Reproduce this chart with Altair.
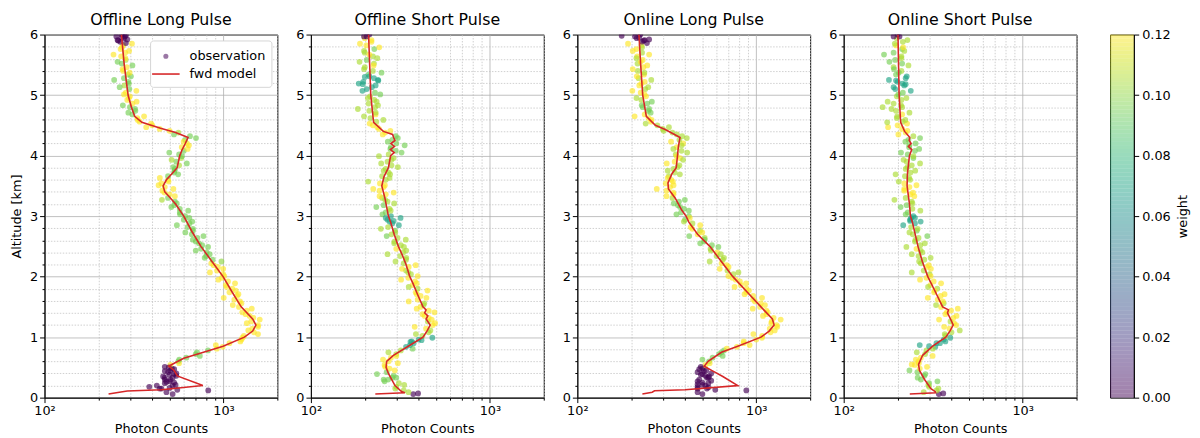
import altair as alt
import pandas as pd
import numpy as np

TITLES = ["Offline Long Pulse", "Offline Short Pulse", "Online Long Pulse", "Online Short Pulse"]

# shared range bins [km], two interleaved shot sets
ALT_A = [0.06, 0.12, 0.18, 0.24, 0.30, 0.36, 0.42, 0.48, 0.54, 0.60,
         0.66, 0.72, 0.78, 0.84, 0.90, 0.96, 1.02, 1.08, 1.14, 1.20,
         1.26, 1.32, 1.38, 1.44, 1.50, 1.56, 1.62, 1.68, 1.74, 1.80,
         1.86, 1.92, 1.98, 2.04, 2.10, 2.16, 2.22, 2.28, 2.34, 2.40,
         2.46, 2.52, 2.58, 2.64, 2.70, 2.76, 2.82, 2.88, 2.94, 3.00,
         3.06, 3.12, 3.18, 3.24, 3.30, 3.36, 3.42, 3.48, 3.54, 3.60,
         3.66, 3.72, 3.78, 3.84, 3.90, 3.96, 4.02, 4.08, 4.14, 4.20,
         4.26, 4.32, 4.38, 4.44, 4.50, 4.56, 4.62, 4.68, 4.74, 4.80,
         4.86, 4.92, 4.98, 5.04, 5.10, 5.16, 5.22, 5.28, 5.34, 5.40,
         5.46, 5.52, 5.58, 5.64, 5.70, 5.76, 5.82, 5.88, 5.94, 6.00]
ALT_B = [0.09, 0.15, 0.21, 0.27, 0.33, 0.39, 0.45, 0.51, 0.57, 0.63,
         0.69, 0.75, 0.81, 0.87, 0.93, 0.99, 1.05, 1.11, 1.17, 1.23,
         1.29, 1.35, 1.41, 1.47, 1.53, 1.59, 1.65, 1.71, 1.77, 1.83,
         1.89, 1.95, 2.01, 2.07, 2.13, 2.19, 2.25, 2.31, 2.37, 2.43,
         2.49, 2.55, 2.61, 2.67, 2.73, 2.79, 2.85, 2.91, 2.97, 3.03,
         3.09, 3.15, 3.21, 3.27, 3.33, 3.39, 3.45, 3.51, 3.57, 3.63,
         3.69, 3.75, 3.81, 3.87, 3.93, 3.99, 4.05, 4.11, 4.17, 4.23,
         4.29, 4.35, 4.41, 4.47, 4.53, 4.59, 4.65, 4.71, 4.77, 4.83,
         4.89, 4.95, 5.01, 5.07, 5.13, 5.19, 5.25, 5.31, 5.37, 5.43,
         5.49, 5.55, 5.61, 5.67, 5.73, 5.79, 5.85, 5.91, 5.97]

# ---------------- Offline Long Pulse ----------------
OLP_CNT_A = [520, 822, 385, 470, 505, 545, 490, 515, 505, 560,
             620, 700, 820, 990, 1080, 1260, 1300, 1480, 1450, 1560,
             1430, 1470, 1330, 1350, 1220, 1260, 1150, 1190, 1080, 1120,
             1030, 1060, 980, 995, 920, 930, 855, 870, 800, 805,
             750, 760, 700, 715, 665, 675, 630, 645, 600, 610,
             570, 570, 530, 535, 490, 500, 455, 470, 450, 490,
             490, 530, 535, 565, 545, 580, 565, 600, 585, 625,
             610, 650, 560, 440, 400, 340, 330, 310, 322, 300,
             310, 290, 300, 285, 298, 280, 294, 278, 292, 275,
             288, 270, 284, 268, 282, 266, 275, 265, 278, 270]
OLP_W_A = [0, 0, 0, 0, 0, 0, 0, 0, .12, .095,
           .095, .095, .095, .12, .12, .12, .12, .12, .12, .12,
           .12, .12, .12, .12, .12, .12, .12, .12, .12, .12,
           .12, .12, .12, .12, .12, .12, .12, .095, .095, .095,
           .095, .095, .095, .095, .095, .095, .095, .095, .095, .095,
           .095, .095, .095, .095, .095, .12, .12, .12, .12, .12,
           .095, .095, .095, .105, .095, .105, .095, .095, .12, .12,
           .095, .095, .105, .12, .12, .12, .12, .095, .095, .095,
           .12, .12, .12, .12, .095, .105, .095, .095, .105, .12,
           .12, .095, .105, .12, .12, .12, .12, 0, 0, 0]
OLP_CNT_B = [480, 440, 540, 500, 470, 530, 505, 470, 565, 566,
             738, 711, 918, 906, 1242, 1277, 1559, 1377, 1560, 1350,
             1594, 1400, 1273, 1439, 1127, 1236, 1003, 1212, 1171, 1043,
             1160, 936, 1010, 840, 996, 881, 974, 785, 837, 700,
             820, 730, 675, 773, 612, 675, 549, 669, 644, 572,
             635, 511, 548, 453, 535, 468, 525, 434, 493, 441,
             558, 533, 524, 624, 513, 586, 498, 631, 641, 599,
             702, 529, 500, 370, 394, 332, 360, 294, 320, 274,
             327, 296, 278, 326, 263, 296, 245, 304, 299, 273,
             310, 256, 283, 243, 297, 271, 308, 256, 281]
OLP_W_B = [0, 0, 0, 0, 0, 0, 0, 0, .12, .095,
           .095, .095, .12, .12, .12, .12, .12, .12, .12, .12,
           .12, .12, .12, .12, .12, .12, .12, .12, .12, .12,
           .12, .12, .12, .12, .12, .12, .10, .095, .095, .095,
           .095, .095, .095, .095, .095, .095, .095, .095, .095, .095,
           .095, .095, .095, .105, .12, .12, .12, .12, .12, .12,
           .095, .095, .095, .095, .105, .095, .095, .12, .12, .12,
           .095, .095, .12, .12, .12, .12, .12, .095, .095, .095,
           .12, .12, .12, .12, .095, .095, .095, .095, .12, .12,
           .095, .095, .12, .12, .12, .12, .12, 0, 0]
OLP_EX_ALT = [0.13, 0.15, 0.16, 0.20, 0.20, 0.25, 0.26, 0.30, 0.33, 0.35, 0.38,
              0.40, 0.44, 0.47, 0.50, 5.86, 5.90, 5.92, 5.95, 5.97, 5.99]
OLP_EX_CNT = [552, 450, 500, 424, 520, 530, 480, 470, 520, 460, 500,
              545, 470, 530, 495, 285, 258, 290, 270, 252, 285]
OLP_EX_W = [0] * 21
OLP_M_ALT = [0.06, 0.09, 0.11, 0.13, 0.20, 0.36, 0.45, 0.52, 0.58, 0.65, 0.75, 0.85,
             1.0, 1.1, 1.2, 1.3, 1.5, 1.75, 2.0, 2.25, 2.5, 2.75, 3.0, 3.2, 3.3, 3.4,
             3.5, 3.6, 3.7, 3.8, 4.0, 4.1, 4.2, 4.3, 4.38, 4.45, 4.55, 4.65, 4.8,
             5.0, 5.5, 6.0]
OLP_M_CNT = [228, 262, 290, 450, 767, 552, 530, 495, 540, 600, 773, 995,
             1309, 1456, 1518, 1456, 1256, 1115, 995, 862, 748, 665, 600, 540, 505, 470,
             460, 480, 515, 551, 570, 588, 612, 634, 540, 445, 350, 319, 306,
             293, 279, 269]

# ---------------- Offline Short Pulse ----------------
OSP_CNT_A = [373, 330, 300, 310, 270, 290, 265, 275, 258, 272,
             280, 300, 318, 340, 375, 400, 420, 455, 440, 480,
             450, 455, 420, 455, 410, 430, 395, 410, 385, 395,
             370, 382, 350, 362, 340, 352, 330, 340, 315, 328,
             300, 318, 293, 305, 282, 295, 270, 285, 268, 280,
             262, 275, 255, 268, 250, 262, 242, 255, 243, 262,
             250, 272, 262, 282, 268, 290, 272, 298, 280, 300,
             285, 298, 260, 240, 222, 232, 215, 230, 212, 228,
             210, 226, 214, 228, 205, 230, 196, 225, 210, 222,
             200, 225, 205, 222, 200, 226, 204, 218, 200, 212]
OSP_W_A = [0, .105, .105, .105, .095, .095, .095, .12, .12, .12,
           .12, .105, .105, .07, .07, .07, .105, .105, .12, .12,
           .105, .12, .12, .12, .12, .105, .12, .12, .12, .105,
           .12, .12, .12, .105, .105, .12, .105, .105, .105, .105,
           .12, .105, .105, .105, .105, .095, .105, .07, .07, .07,
           .095, .105, .095, .105, .105, .12, .12, .12, .12, .105,
           .105, .105, .105, .105, .105, .105, .105, .095, .095, .095,
           .095, .095, .12, .12, .12, .105, .105, .12, .105, .105,
           .105, .105, .105, .095, .07, .07, .07, .07, .09, .105,
           .105, .105, .095, .105, .105, .095, .12, .12, .12, 0]
OSP_CNT_B = [351, 296, 332, 258, 285, 234, 294, 260, 306, 253,
             300, 271, 370, 358, 366, 477, 386, 465, 380, 494,
             473, 432, 490, 390, 426, 352, 442, 390, 448, 352,
             390, 319, 395, 350, 323, 385, 297, 341, 268, 341,
             331, 292, 339, 265, 296, 246, 310, 275, 317, 251,
             279, 232, 292, 260, 242, 290, 223, 259, 209, 275,
             277, 255, 306, 247, 282, 240, 321, 278, 334, 269,
             306, 252, 278, 235, 213, 254, 198, 230, 183, 237,
             233, 208, 244, 194, 219, 185, 237, 212, 248, 198,
             224, 187, 235, 212, 198, 241, 188, 218, 205]
OSP_W_B = [.105, .105, .105, .095, .095, .095, .12, .12, .12, .12,
           .12, .105, .095, .07, .07, .07, .105, .105, .12, .12,
           .12, .12, .12, .12, .105, .12, .12, .12, .12, .105,
           .12, .12, .12, .105, .12, .12, .105, .105, .105, .105,
           .105, .105, .105, .095, .105, .105, .07, .07, .07, .095,
           .105, .095, .105, .105, .12, .12, .12, .12, .105, .105,
           .105, .105, .105, .105, .105, .105, .095, .095, .095, .095,
           .095, .12, .12, .12, .12, .105, .105, .105, .105, .105,
           .105, .105, .095, .07, .07, .07, .07, .07, .095, .105,
           .12, .105, .105, .12, .105, .12, .12, .12, 0]
OSP_EX_ALT = [0.07, 0.30, 0.33, 0.92, 0.95, 2.92, 2.97, 5.18, 5.24, 5.30, 5.97]
OSP_EX_CNT = [397, 255, 300, 360, 415, 290, 262, 195, 238, 200, 198]
OSP_EX_W = [0, .095, .095, .07, .07, .07, .07, .07, .07, .07, 0]
OSP_M_ALT = [0.06, 0.08, 0.1, 0.2, 0.3, 0.4, 0.5, 0.6, 0.7, 0.85, 1.0, 1.1, 1.2, 1.3,
             1.35, 1.4, 1.45, 1.5, 1.7, 1.9, 2.0, 2.2, 2.35, 2.5, 2.7, 2.9, 3.0, 3.3,
             3.5, 3.65, 3.8, 4.0, 4.05, 4.1, 4.15, 4.2, 4.25, 4.3, 4.35, 4.4, 4.55,
             5.0, 5.5, 6.0]
OSP_M_CNT = [229, 335, 321, 295, 283, 271, 263, 265, 289, 350, 423, 445, 464, 440,
             450, 432, 440, 423, 395, 370, 357, 340, 325, 308, 292, 279, 271, 259,
             249, 256, 271, 279, 292, 278, 293, 280, 295, 290, 286, 254, 224,
             216, 213, 210]

# ---------------- Online Long Pulse ----------------
ONLP_CNT_A = [500, 880, 470, 540, 480, 520, 470, 500, 520, 545,
              570, 620, 660, 780, 850, 1000, 1080, 1200, 1190, 1300,
              1220, 1250, 1140, 1140, 1050, 1060, 960, 960, 880, 880,
              820, 810, 735, 745, 690, 700, 640, 650, 600, 605,
              555, 565, 510, 515, 470, 485, 430, 440, 400, 420,
              380, 395, 365, 370, 340, 345, 315, 330, 312, 335,
              325, 350, 345, 372, 350, 375, 355, 382, 360, 390,
              372, 385, 340, 300, 280, 258, 250, 238, 250, 232,
              246, 228, 242, 226, 240, 222, 238, 220, 236, 218,
              234, 217, 232, 216, 230, 214, 228, 230, 215, 225]
ONLP_W_A = [0, 0, 0, 0, 0, 0, 0, 0, .12, .095,
            .095, .095, .095, .12, .12, .12, .12, .12, .12, .12,
            .12, .12, .12, .12, .12, .12, .12, .12, .12, .12,
            .12, .12, .12, .105, .105, .12, .12, .105, .105, .12,
            .105, .095, .095, .105, .12, .105, .12, .105, .095, .095,
            .095, .095, .095, .095, .105, .12, .12, .12, .12, .12,
            .105, .105, .105, .105, .12, .12, .105, .105, .12, .12,
            .105, .105, .105, .105, .105, .12, .12, .12, .095, .095,
            .095, .105, .12, .12, .105, .12, .12, .105, .12, .105,
            .12, .105, .12, .12, .105, .12, .12, 0, 0, 0]
ONLP_CNT_B = [470, 530, 500, 470, 540, 500, 525, 490, 549, 500,
              649, 639, 684, 918, 851, 1076, 963, 1268, 1309, 1213,
              1369, 1090, 1158, 955, 1118, 983, 1077, 860, 910, 756,
              877, 768, 698, 795, 625, 683, 549, 660, 633, 558,
              614, 486, 515, 422, 499, 439, 486, 394, 425, 358,
              420, 375, 346, 399, 315, 344, 278, 345, 342, 320,
              374, 320, 364, 316, 390, 359, 411, 344, 383, 334,
              409, 360, 304, 325, 241, 260, 209, 257, 252, 229,
              261, 214, 237, 203, 249, 228, 259, 215, 237, 204,
              246, 226, 214, 252, 204, 230, 192, 238, 210]
ONLP_W_B = [0, 0, 0, 0, 0, 0, 0, 0, .12, .095,
            .095, .095, .12, .12, .12, .12, .12, .12, .12, .12,
            .12, .12, .12, .12, .12, .12, .12, .12, .12, .12,
            .12, .12, .12, .105, .12, .12, .105, .105, .105, .105,
            .095, .095, .095, .095, .12, .12, .12, .105, .12, .095,
            .095, .095, .095, .095, .12, .12, .12, .12, .12, .12,
            .105, .105, .105, .12, .105, .12, .105, .105, .105, .12,
            .105, .105, .105, .105, .105, .12, .12, .095, .095, .095,
            .095, .105, .12, .12, .105, .12, .105, .12, .105, .12,
            .12, .12, .105, .12, .12, .105, .12, 0, 0]
ONLP_EX_ALT = [0.13, 0.15, 0.17, 0.20, 0.22, 0.25, 0.28, 0.33, 0.35, 0.38, 0.40,
               0.44, 0.47, 5.86, 5.90, 5.92, 5.95, 5.98]
ONLP_EX_CNT = [590, 470, 540, 520, 470, 500, 560, 530, 545, 490, 560,
               510, 480, 245, 235, 252, 222, 177]
ONLP_EX_W = [0] * 18
ONLP_M_ALT = [0.06, 0.09, 0.114, 0.13, 0.2, 0.35, 0.45, 0.52, 0.6, 0.75, 0.85, 1.0,
              1.1, 1.2, 1.3, 1.5, 1.75, 2.0, 2.25, 2.5, 2.7, 2.9, 3.0, 3.1, 3.3,
              3.45, 3.55, 3.7, 3.8, 4.0, 4.15, 4.3, 4.43, 4.5, 4.65, 5.0, 5.5, 6.0]
ONLP_M_CNT = [231, 262, 270, 400, 788, 650, 563, 512, 538, 639, 788, 1062,
              1180, 1258, 1230, 1062, 886, 740, 638, 550, 470, 420, 405, 383, 352,
              323, 321, 338, 357, 363, 367, 375, 310, 273, 243, 232, 226, 221]

# ---------------- Online Short Pulse ----------------
ONSP_CNT_A = [340, 330, 300, 300, 270, 282, 258, 266, 250, 262,
              270, 285, 290, 325, 330, 362, 370, 400, 390, 425,
              395, 410, 370, 398, 350, 362, 335, 348, 320, 333,
              305, 318, 290, 302, 280, 292, 270, 282, 262, 275,
              255, 268, 250, 262, 243, 256, 238, 250, 235, 245,
              228, 242, 225, 240, 222, 236, 218, 233, 218, 235,
              220, 236, 222, 240, 225, 245, 228, 250, 232, 252,
              230, 245, 222, 212, 200, 214, 198, 212, 196, 212,
              190, 210, 198, 214, 194, 218, 200, 222, 196, 210,
              190, 212, 194, 210, 190, 212, 196, 214, 198, 200]
ONSP_W_A = [0, .105, .105, .095, .095, .095, .095, .12, .12, .12,
            .12, .105, .105, .07, .07, .07, .105, .105, .12, .12,
            .105, .12, .12, .12, .12, .105, .12, .12, .12, .105,
            .12, .12, .12, .105, .105, .12, .105, .105, .105, .105,
            .12, .105, .105, .105, .105, .095, .105, .07, .07, .07,
            .095, .105, .095, .105, .105, .12, .12, .12, .12, .105,
            .105, .105, .105, .105, .105, .095, .095, .095, .095, .095,
            .095, .105, .12, .12, .12, .105, .105, .12, .105, .105,
            .105, .105, .105, .095, .07, .07, .07, .07, .095, .105,
            .105, .095, .095, .105, .095, .095, .12, .105, .105, 0]
ONSP_CNT_B = [280, 338, 297, 334, 259, 286, 233, 292, 263, 253,
              314, 256, 315, 266, 370, 394, 367, 445, 364, 413,
              341, 427, 377, 434, 328, 358, 295, 366, 322, 296,
              350, 267, 306, 240, 307, 299, 264, 306, 240, 269,
              224, 284, 252, 293, 233, 259, 215, 269, 238, 222,
              268, 208, 242, 192, 248, 244, 218, 255, 203, 232,
              195, 251, 227, 267, 216, 245, 209, 264, 233, 221,
              267, 202, 227, 177, 226, 221, 199, 233, 185, 209,
              176, 224, 202, 237, 190, 213, 179, 225, 203, 191,
              230, 180, 210, 168, 218, 215, 193, 227, 205]
ONSP_W_B = [.105, .105, .105, .095, .095, .095, .095, .12, .12, .12,
            .12, .105, .105, .07, .07, .07, .105, .105, .12, .12,
            .12, .12, .12, .12, .105, .12, .12, .12, .12, .105,
            .12, .12, .12, .105, .12, .12, .105, .105, .105, .105,
            .105, .105, .105, .095, .105, .105, .07, .07, .07, .095,
            .105, .095, .105, .105, .12, .12, .12, .12, .105, .105,
            .105, .105, .105, .105, .105, .105, .095, .095, .095, .095,
            .095, .12, .12, .12, .12, .105, .105, .105, .105, .105,
            .105, .105, .095, .07, .07, .07, .07, .07, .095, .095,
            .105, .095, .105, .095, .105, .12, .105, .105, 0]
ONSP_EX_ALT = [0.07, 0.55, 0.85, 0.90, 2.92, 2.97, 4.55, 4.80, 5.18, 5.24, 5.97]
ONSP_EX_CNT = [360, 240, 300, 345, 235, 250, 175, 165, 222, 196, 190]
ONSP_EX_W = [0, .12, .07, .07, .07, .07, .105, .105, .07, .07, 0]
ONSP_M_ALT = [0.06, 0.08, 0.1, 0.15, 0.3, 0.45, 0.55, 0.7, 0.85, 1.0, 1.1, 1.2, 1.3,
              1.4, 1.45, 1.5, 1.75, 2.0, 2.25, 2.5, 2.9, 3.0, 3.2, 3.5, 3.7, 4.0,
              4.1, 4.15, 4.2, 4.25, 4.3, 4.4, 4.55, 5.0, 6.0]
ONSP_M_CNT = [234, 326, 325, 307, 283, 265, 262, 276, 314, 372, 392, 409, 395,
              380, 385, 357, 325, 295, 275, 260, 242, 236, 233, 226, 227, 233,
              240, 230, 238, 232, 234, 219, 208, 204, 201]

X_TICKS = [100, 200, 300, 400, 500, 600, 700, 800, 900, 1000, 2000]
Y_TICKS = [round(0.2 * i, 1) for i in range(31)]
CBAR_TICKS = [0.0, 0.02, 0.04, 0.06, 0.08, 0.10, 0.12]

FONT = "DejaVu Sans"
MAJ_X = "datum.value == 100 || datum.value == 1000"
MAJ_Y = "abs(datum.value - round(datum.value)) < 0.001"


def x_axis():
    return alt.Axis(
        values=X_TICKS,
        labelExpr="datum.value == 100 ? '10²' : (datum.value == 1000 ? '10³' : '')",
        title="Photon Counts", titlePadding=5, labelPadding=2,
        labelFlush=False, labelOverlap=False, grid=True,
        tickSize={"condition": {"test": MAJ_X, "value": 5}, "value": 2.5},
        gridDash={"condition": {"test": MAJ_X, "value": []}, "value": [1.5, 1.5]},
        gridColor={"condition": {"test": MAJ_X, "value": "#b0b0b0"}, "value": "#c4c4c4"},
    )


def y_axis(first):
    kw = dict(
        values=Y_TICKS,
        labelExpr=MAJ_Y + " ? format(datum.value, 'd') : ''",
        labelPadding=2, labelFlush=False, labelOverlap=False, grid=True,
        tickSize={"condition": {"test": MAJ_Y, "value": 5}, "value": 2.5},
        gridDash={"condition": {"test": MAJ_Y, "value": []}, "value": [1.5, 1.5]},
        gridColor={"condition": {"test": MAJ_Y, "value": "#b0b0b0"}, "value": "#c4c4c4"},
    )
    if first:
        kw["title"] = "Altitude [km]"
        kw["titlePadding"] = 6
    else:
        kw["title"] = None
    return alt.Axis(**kw)


COLOR_SCALE = alt.Scale(scheme="viridis", domain=[0, 0.12])


def panel(title, cnt_a, w_a, cnt_b, w_b, ex_alt, ex_cnt, ex_w, m_alt, m_cnt, first):
    obs = pd.DataFrame({"alt": ALT_A + ALT_B + ex_alt,
                        "cnt": cnt_a + cnt_b + ex_cnt,
                        "w": w_a + w_b + ex_w})
    mod = pd.DataFrame({"alt": m_alt, "cnt": m_cnt, "i": list(range(len(m_alt)))})
    xs = alt.Scale(type="log", domain=[100, 2000], nice=False)
    ys = alt.Scale(domain=[0, 6], nice=False, zero=False)
    X = alt.X("cnt:Q", scale=xs, axis=x_axis())
    Y = alt.Y("alt:Q", scale=ys, axis=y_axis(first))
    pts = alt.Chart(obs).mark_circle(size=34, opacity=0.65, clip=True).encode(
        x=X, y=Y, color=alt.Color("w:Q", scale=COLOR_SCALE, legend=None))
    line = alt.Chart(mod).mark_line(color="#d62728", strokeWidth=1.6, clip=True).encode(
        x=X, y=Y, order="i:Q")
    layers = [pts, line]
    if first:
        leg_df = pd.DataFrame({"s": ["observation", "fwd model"]})
        leg = alt.Legend(
            title=None, orient="top-right", offset=6, padding=6,
            strokeColor="#d5d5d5", fillColor="white", cornerRadius=3,
            symbolSize=324, symbolStrokeWidth=1.6, symbolOpacity=1,
            symbolFillColor="#9b77a5", labelOffset=14, labelFontSize=13,
            labelFont=FONT, rowPadding=1,
        )
        dummy = alt.Chart(leg_df).mark_point(filled=True, color="#9b77a5",
                                             fillOpacity=0, strokeOpacity=0).encode(
            shape=alt.Shape("s:N", scale=alt.Scale(
                domain=["observation", "fwd model"],
                range=["M-0.2,0A0.2,0.2,0,1,0,0.2,0A0.2,0.2,0,1,0,-0.2,0Z",
                       "M-1.55,0L1.55,0"]), legend=leg),
            stroke=alt.Stroke("s:N", scale=alt.Scale(
                domain=["observation", "fwd model"],
                range=["#9b77a5", "#d62728"]), legend=leg),
        )
        layers.append(dummy)
    return alt.layer(*layers).properties(width=236, height=368, title=title)


panels = [
    panel(TITLES[0], OLP_CNT_A, OLP_W_A, OLP_CNT_B, OLP_W_B, OLP_EX_ALT, OLP_EX_CNT, OLP_EX_W,
          OLP_M_ALT, OLP_M_CNT, True),
    panel(TITLES[1], OSP_CNT_A, OSP_W_A, OSP_CNT_B, OSP_W_B, OSP_EX_ALT, OSP_EX_CNT, OSP_EX_W,
          OSP_M_ALT, OSP_M_CNT, False),
    panel(TITLES[2], ONLP_CNT_A, ONLP_W_A, ONLP_CNT_B, ONLP_W_B, ONLP_EX_ALT, ONLP_EX_CNT, ONLP_EX_W,
          ONLP_M_ALT, ONLP_M_CNT, False),
    panel(TITLES[3], ONSP_CNT_A, ONSP_W_A, ONSP_CNT_B, ONSP_W_B, ONSP_EX_ALT, ONSP_EX_CNT, ONSP_EX_W,
          ONSP_M_ALT, ONSP_M_CNT, False),
]

row = alt.hconcat(*panels, spacing=17).resolve_scale(
    shape="independent", stroke="independent").resolve_legend(
    shape="independent", stroke="independent")

# colour bar (ramp of the weight scale)
edges = np.linspace(0, 0.12, 93)
cb_df = pd.DataFrame({"v0": edges[:-1], "v1": edges[1:], "m": (edges[:-1] + edges[1:]) / 2})
cbar = alt.Chart(cb_df).mark_rect(opacity=0.5).encode(
    y=alt.Y("v0:Q", scale=alt.Scale(domain=[0, 0.12], nice=False, zero=False),
            axis=alt.Axis(orient="right", values=CBAR_TICKS, format=".2f", title="weight",
                          titleAngle=270, titleBaseline="top", titlePadding=6,
                          grid=False, tickSize=5, labelPadding=3, labelFlush=False)),
    y2="v1:Q",
    color=alt.Color("m:Q", scale=COLOR_SCALE, legend=None),
).properties(width=24, height=368)

chart = alt.hconcat(row, cbar, spacing=32).properties(
    padding={"left": 2, "top": 0, "right": 2, "bottom": 2}
).configure_view(stroke="black", strokeWidth=1).configure_axis(
    labelFont=FONT, titleFont=FONT, labelFontSize=13, titleFontSize=13,
    titleFontWeight="normal", labelColor="black", titleColor="black",
    tickColor="black", domainColor="black", gridWidth=0.8,
).configure_title(
    font=FONT, fontSize=16, fontWeight="normal", offset=1, color="black", frame="group"
).configure_legend(labelFont=FONT, labelFontSize=13, labelColor="black")

chart.save("out.html", embed_options={"renderer": "svg", "actions": False})
